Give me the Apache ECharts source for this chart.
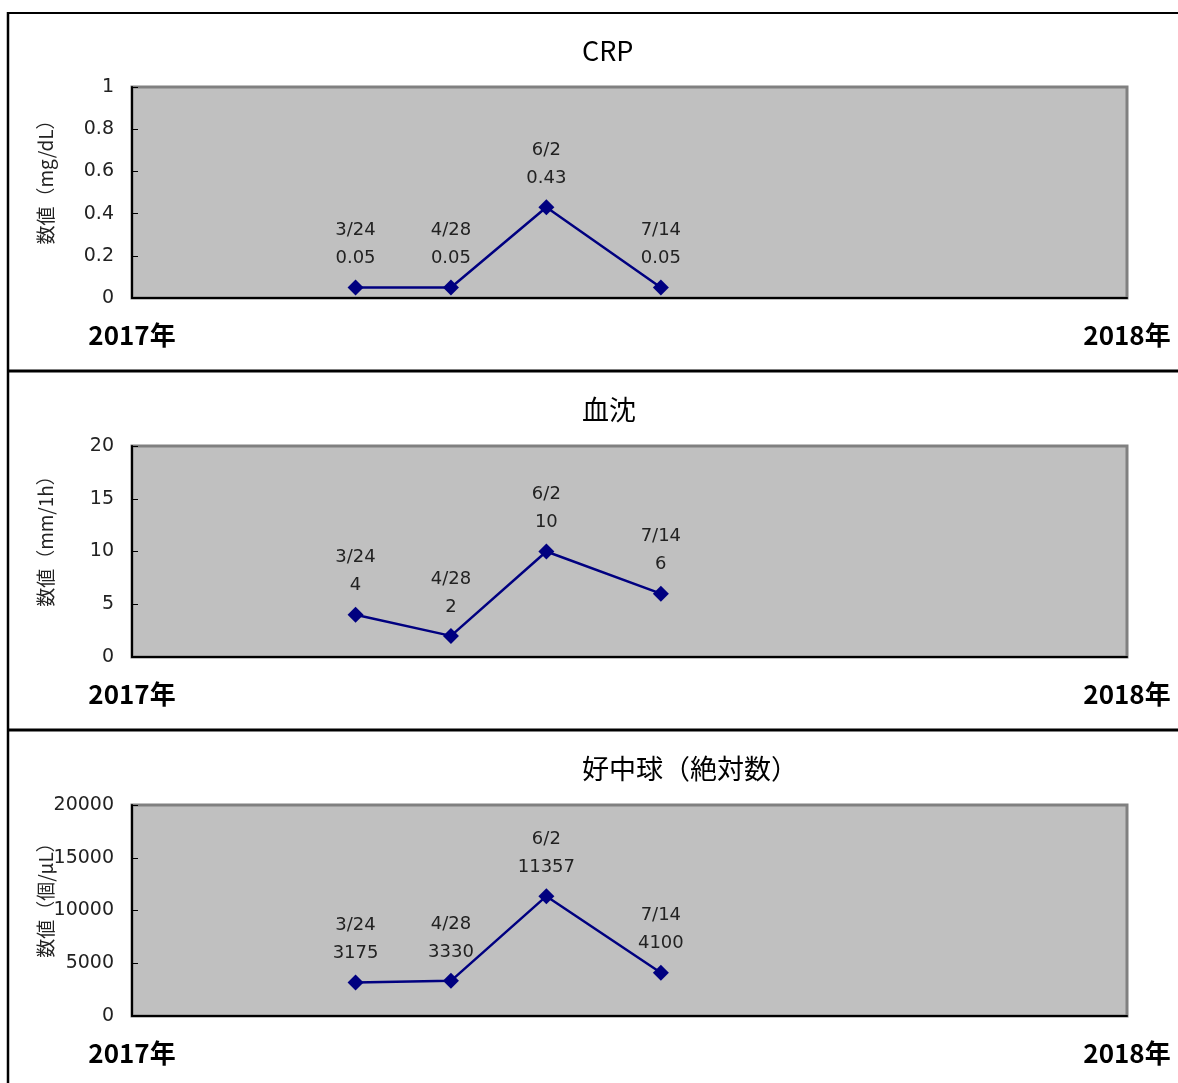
<!DOCTYPE html>
<html>
<head>
<meta charset="utf-8">
<script src="https://cdn.jsdelivr.net/npm/echarts@6/dist/echarts.min.js"></script>
<style>
  html, body { margin: 0; padding: 0; background: #fff; }
  #chart { width: 1178px; height: 1083px; }
</style>
</head>
<body>
<div id="chart"></div>
<script>
// Measurement dates (2017) and the three lab series
const dates = ['2017-03-24', '2017-04-28', '2017-06-02', '2017-07-14'];
const crpValues = [0.05, 0.05, 0.43, 0.05];
const esrValues = [4, 2, 10, 6];
const neutValues = [3175, 3330, 11357, 4100];

const panelTitles = ['CRP', '血沈', '好中球（絶対数）'];
const axisNames = ['数値（mg/dL）', '数値（mm/1h）', '数値（個/μL）'];
const yMax = [1, 20, 20000];
const yStep = [0.2, 5, 5000];
const xRange = ['2017-01-01', '2018-01-01'];

const seriesValues = [crpValues, esrValues, neutValues];

function toTime(s) {
  const p = s.split('-').map(Number);
  return new Date(p[0], p[1] - 1, p[2]).getTime();
}
function shortDate(s) {
  const p = s.split('-').map(Number);
  return p[1] + '/' + p[2];
}

// x runs over one calendar year; a single interval puts ticks at both ends
const xMin = toTime(xRange[0]);
const xMax = toTime(xRange[1]);

const NUM_FONT = '"DejaVu Sans", sans-serif';
const JP_FONT = '"Noto Sans CJK JP", sans-serif';
const PANEL_STEP = 359;
const GRID_TOP = 87;
const GRID_H = 211;

const grids = [], xAxes = [], yAxes = [], series = [], titles = [];

for (let i = 0; i < 3; i++) {
  const off = i * PANEL_STEP;
  grids.push({
    left: 132, width: 995, top: GRID_TOP + off, height: GRID_H,
    show: true, backgroundColor: '#c0c0c0',
    borderColor: '#808080', borderWidth: 3
  });
  titles.push({
    text: panelTitles[i],
    left: 582, top: 37 + off, padding: 0,
    textStyle: { fontFamily: JP_FONT, fontSize: 27, fontWeight: 'normal', color: '#000' }
  });
  xAxes.push({
    type: 'value', gridIndex: i, min: xMin, max: xMax, interval: xMax - xMin,
    axisLine: { show: true, onZero: false, lineStyle: { color: '#000', width: 2 } },
    axisTick: { show: false },
    splitLine: { show: false },
    axisLabel: {
      margin: 24, showMinLabel: true, showMaxLabel: true,
      fontFamily: JP_FONT, fontSize: 26, fontWeight: 'bold', color: '#000',
      formatter: v => new Date(v).getFullYear() + '年'
    }
  });
  yAxes.push({
    type: 'value', gridIndex: i, min: 0, max: yMax[i], interval: yStep[i],
    name: axisNames[i], nameLocation: 'middle', nameGap: 77,
    nameMoveOverlap: false,
    nameTextStyle: { fontFamily: JP_FONT, fontSize: 19, color: '#222', padding: [0, 0, 0, 30] },
    axisLine: { show: true, lineStyle: { color: '#000', width: 2 } },
    axisTick: { show: true, inside: true, length: 6, lineStyle: { color: '#000', width: 1 } },
    splitLine: { show: false },
    axisLabel: {
      margin: 18, fontFamily: NUM_FONT, fontSize: 19, color: '#222',
      formatter: v => String(v)
    }
  });
  series.push({
    type: 'line', xAxisIndex: i, yAxisIndex: i,
    data: dates.map((d, k) => [toTime(d), seriesValues[i][k]]),
    symbol: 'diamond', symbolSize: 16,
    itemStyle: { color: '#000080' },
    lineStyle: { color: '#000080', width: 2.5 },
    animation: false,
    label: {
      show: true, position: 'top', distance: 7,
      fontFamily: NUM_FONT, fontSize: 18, lineHeight: 28, color: '#222',
      formatter: p => shortDate(dates[p.dataIndex]) + '\n' + p.value[1]
    }
  });
}

// Panel frame lines
const frame = [
  { x1: 8, y1: 13, x2: 1178, y2: 13, w: 2 },
  { x1: 8, y1: 12, x2: 8, y2: 1083, w: 2.5 },
  { x1: 8, y1: 371, x2: 1178, y2: 371, w: 3 },
  { x1: 8, y1: 730, x2: 1178, y2: 730, w: 3 }
].map(l => ({
  type: 'line', silent: true,
  shape: { x1: l.x1, y1: l.y1, x2: l.x2, y2: l.y2 },
  style: { stroke: '#000', lineWidth: l.w }
}));

const chart = echarts.init(document.getElementById('chart'));
chart.setOption({
  animation: false,
  backgroundColor: '#fff',
  title: titles,
  grid: grids,
  xAxis: xAxes,
  yAxis: yAxes,
  series: series,
  graphic: frame
});
</script>
</body>
</html>
